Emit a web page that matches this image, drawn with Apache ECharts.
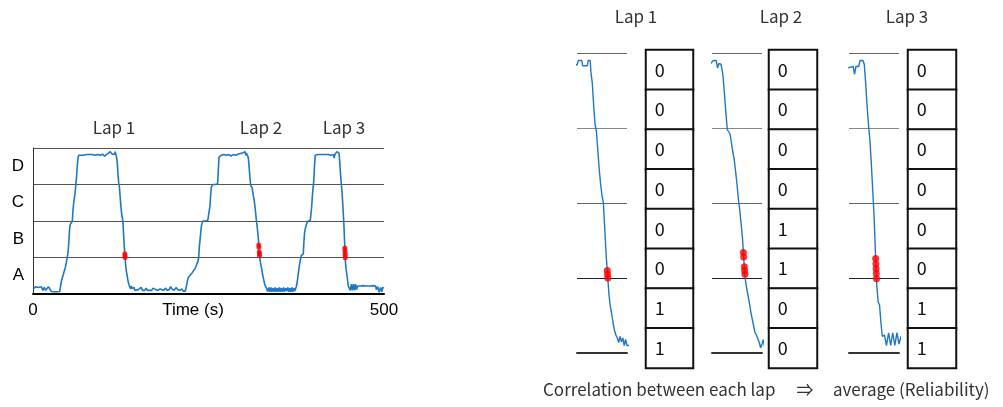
<!DOCTYPE html>
<html><head><meta charset="utf-8">
<script src="https://cdn.jsdelivr.net/npm/echarts/dist/echarts.min.js"></script>
<style>html,body{margin:0;padding:0;background:#fff}#c{width:1003px;height:407px}</style>
</head><body><div id="c"></div>
<script>
// ---- data: [time (s), position] pairs ----
const baseline0 = [[0,0.13],[2,0.13],[4,0.2],[6,0.22],[8,0.18],[10,0.22],[12,0.2],[14,0.1],[16,0.18],[18,0.1],[20,0.15],[22,0.2],[24,0.2],[26,0.07],[28,0.06],[30,0.06],[32,0.07],[34,0.06],[36,0.06],[38,0.07]];
const lap1Up = [[40,0.3],[41,0.4],[43,0.52],[45,0.66],[46,0.72],[48,0.92],[50,1.15],[51,1.4],[52,1.75],[53,1.9],[55,1.95],[56,2.0],[57,2.3],[58,2.5],[60,2.78],[61,3.0],[62,3.2],[63,3.5],[64,3.7],[65,3.8]];
const lap1Top = [[68,3.8],[72,3.8],[76,3.82],[79,3.82],[81,3.78],[84,3.82],[88,3.8],[92,3.82],[96,3.8],[99,3.83],[102,3.78],[104,3.82],[107,3.85],[109,3.84],[110,3.9],[112.5,3.9],[113,3.83],[116.5,3.83],[117,3.9],[118.5,3.9]];
const lap1Down = [[119,3.75],[120,3.6],[121,3.3],[122,3.05],[123,2.95],[124,2.7],[125,2.45],[126,2.25],[127,2.1],[128,2.0],[129,1.65],[130,1.3],[131,1.05],[132,0.78],[133,0.62],[134,0.52],[135,0.4],[136,0.3],[137,0.24],[138,0.2],[139,0.14],[140,0.22],[141,0.15],[142,0.2],[143,0.1],[144,0.18],[145,0.1]];
const baseline1 = [[147,0.1],[150,0.12],[152,0.1],[154,0.18],[156,0.1],[159,0.1],[161,0.16],[163,0.1],[166,0.1],[169,0.1],[171,0.16],[173,0.2],[175,0.12],[178,0.1],[181,0.14],[183,0.1],[186,0.1],[189,0.16],[191,0.1],[194,0.12],[196,0.2],[198,0.14],[201,0.1],[204,0.18],[206,0.12],[209,0.1],[212,0.14],[214,0.08],[217,0.08],[219,0.12]];
const lap2Up = [[221,0.45],[223,0.5],[226,0.56],[228,0.62],[231,0.7],[233,0.75],[235,0.9],[236,1.0],[237,1.3],[238,1.5],[239,1.7],[240,1.88],[242,2.0],[246,2.0],[249,2.02],[250,2.15],[252,2.4],[253,2.7],[254,2.92],[256,3.0],[260,3.0],[263,3.02],[264,3.4],[265,3.75],[266,3.8]];
const lap2Top = [[268,3.8],[272,3.82],[276,3.8],[279,3.82],[282,3.78],[285,3.82],[289,3.8],[292,3.83],[295,3.85],[298,3.86],[300,3.9],[302,3.9],[303,3.8],[304,3.86],[305.5,3.85],[306.5,3.75]];
const lap2Down = [[307,3.68],[308,3.45],[309,3.2],[310,2.98],[311,3.0],[312,2.92],[313,2.8],[314,2.68],[315,2.58],[316,2.42],[317,2.25],[318,2.05],[319,1.9],[320,1.72],[321,1.52],[322,1.22],[323,0.98],[324,0.86],[325,0.76],[326,0.66],[327,0.54],[328,0.45],[329,0.36],[330,0.27],[331,0.24],[332,0.24],[333,0.14],[334,0.07],[335,0.12]];
const baseline2 = [[336,0.18],[337,0.06],[339,0.18],[340,0.06],[342,0.16],[343,0.06],[345,0.18],[346,0.06],[348,0.16],[349,0.06],[351,0.18],[352,0.06],[354,0.16],[355,0.06],[357,0.18],[358,0.06],[360,0.16],[361,0.08],[363,0.18],[364,0.06],[366,0.16],[367,0.06],[369,0.18],[370,0.06],[372,0.16],[373,0.08],[375,0.2]];
const lap3Up = [[376,0.28],[378,0.57],[380,0.85],[381,0.95],[382,1.05],[385,1.1],[386,1.45],[387,1.7],[388,1.8],[390,1.94],[392,2.0],[395,2.02],[396,2.2],[397,2.4],[398,2.7],[399,2.92],[400,3.1],[401,3.5],[402,3.8]];
const lap3Top = [[404,3.82],[406,3.82],[408,3.78],[410,3.82],[414,3.82],[416,3.78],[418,3.82],[421,3.82],[424,3.8],[425,3.82],[428,3.82],[429,3.72],[430,3.82],[432,3.82],[433,3.9],[435,3.9],[436,3.85]];
const lap3Down = [[437,3.6],[438,3.3],[439,3.05],[440,2.85],[441,2.55],[442,2.2],[443,1.85],[444,1.35],[445,0.9],[446,0.68],[447,0.64],[448,0.4],[449,0.22],[450.5,0.24],[452,0.1],[453.5,0.27],[455,0.1],[456.5,0.27],[458,0.1],[459.5,0.27],[461,0.12]];
const baseline3 = [[462.5,0.22],[466,0.22],[470,0.23],[475,0.22],[480,0.22],[485,0.23],[488,0.22],[489,0.12],[491,0.2],[493,0.05],[495,0.18],[497,0.06],[498,0.18],[500,0.16]];

// red markers (threshold crossings)
const redLap1 = [[130.8,1.1],[131.0,1.05],[131.2,1.0]];
const redLap2 = [[321.6,1.34],[321.8,1.28],[322.3,1.15],[322.5,1.1],[322.7,1.05]];
const redLap3 = [[444.2,1.26],[444.35,1.19],[444.5,1.125],[444.65,1.06],[444.8,0.99]];

const zoneLabels = ['A','B','C','D'];
const lapNames = ['Lap 1','Lap 2','Lap 3'];
const lapWindows = [[109,145],[299,335],[425,461]];   // time span shown in each lap panel
const lap1Cells = [0,0,0,0,0,0,1,1];
const lap2Cells = [0,0,0,0,1,1,0,0];
const lap3Cells = [0,0,0,0,0,0,1,1];
const bottomText = ['Correlation between each lap', '\u21D2', 'average (Reliability)'];

// ---- build ----
const trace = [].concat(baseline0, lap1Up, lap1Top, lap1Down, baseline1, lap2Up, lap2Top, lap2Down, baseline2, lap3Up, lap3Top, lap3Down, baseline3);
const red = [].concat(redLap1, redLap2, redLap3);
const cellSets = [lap1Cells, lap2Cells, lap3Cells];

const BLUE = '#1f77c6';
const JP = '"Noto Sans CJK JP", "Noto Sans", sans-serif';
const AR = '"Liberation Sans", Arial, sans-serif';

const panelLeft = [577, 712, 849];
const tableLeft = [646, 769, 908];
const tableWidth = [47, 48, 48];

const grid = [{left:33, top:148, width:351, height:146}];
panelLeft.forEach(l => grid.push({left:l, top:53, width:50, height:300}));
tableLeft.forEach((l,i) => grid.push({left:l, top:50, width:tableWidth[i], height:318}));

const xAxis = [{
  gridIndex:0, type:'value', min:0, max:500, interval:500,
  axisLine:{show:true, lineStyle:{color:'#000', width:2}},
  axisTick:{show:false}, splitLine:{show:false},
  axisLabel:{fontSize:17, color:'#000', fontFamily:AR, margin:8},
  name:'Time (s)', nameLocation:'middle', nameGap:8, nameMoveOverlap:false,
  nameTextStyle:{fontSize:17, color:'#000', fontFamily:AR, verticalAlign:'top', padding:[0,31,0,0]}
}];
lapWindows.forEach((w,i) => xAxis.push({
  gridIndex:i+1, type:'value', min:w[0], max:w[1],
  axisLine:{show:true, lineStyle:{color:'#333', width:2}},
  axisTick:{show:false}, axisLabel:{show:false}, splitLine:{show:false}
}));
cellSets.forEach((c,i) => xAxis.push({gridIndex:i+4, type:'category', data:['v'], show:false}));

const yAxis = [
  {gridIndex:0, type:'value', min:0, max:4, interval:1, position:'left',
   axisLine:{show:true, lineStyle:{color:'#333', width:1}},
   axisTick:{show:false}, axisLabel:{show:false},
   splitLine:{show:true, lineStyle:{color:'#555', width:1}}},
  {gridIndex:0, type:'category', data:zoneLabels, position:'left',
   axisLine:{show:false}, axisTick:{show:false}, splitLine:{show:false},
   axisLabel:{fontSize:17, color:'#000', fontFamily:AR, margin:9}}
];
lapWindows.forEach((w,i) => yAxis.push({
  gridIndex:i+1, type:'value', min:0, max:4, interval:1,
  axisLine:{show:false}, axisTick:{show:false}, axisLabel:{show:false},
  splitLine:{show:true, lineStyle:{color:['#333','#222','#666','#888','#666'], width:1}}
}));
cellSets.forEach((c,i) => yAxis.push({gridIndex:i+4, type:'category', inverse:true, data:c.map((v,r)=>'r'+r), show:false}));

const series = [
  {type:'line', xAxisIndex:0, yAxisIndex:0, data:trace, showSymbol:false, lineStyle:{color:BLUE, width:1.6}, itemStyle:{color:BLUE}, z:2},
  {type:'scatter', xAxisIndex:0, yAxisIndex:0, data:red, symbolSize:5, itemStyle:{color:'#ff0000'}, z:3}
];
lapWindows.forEach((w,i) => {
  series.push({type:'line', xAxisIndex:i+1, yAxisIndex:i+2, data:trace, showSymbol:false, lineStyle:{color:BLUE, width:1.4}, itemStyle:{color:BLUE}, z:2});
  series.push({type:'scatter', xAxisIndex:i+1, yAxisIndex:i+2, data:red, symbolSize:7, itemStyle:{color:'#ff0000'}, z:3});
});
cellSets.forEach((c,i) => series.push({
  type:'heatmap', xAxisIndex:i+4, yAxisIndex:i+5,
  data:c.map((v,r)=>[0,r,v]),
  itemStyle:{color:'#fff', borderColor:'#111', borderWidth:2},
  label:{show:true, position:'insideLeft', distance:10, fontSize:18, fontFamily:JP, color:'#111',
         formatter:p=>String(p.value[2])},
  emphasis:{disabled:true}
}));

function txt(t, x, y, align) {
  return {type:'text', x:x, y:y, style:{text:t, x:0, y:0, font:'17px ' + JP, fill:'#333',
          textAlign:align||'center', textVerticalAlign:'middle', align:align||'center', verticalAlign:'middle'}};
}
const graphic = [
  txt(lapNames[0], 114, 128), txt(lapNames[1], 261, 128), txt(lapNames[2], 344, 128),
  txt(lapNames[0], 636, 17), txt(lapNames[1], 781, 17), txt(lapNames[2], 907, 17),
  txt(bottomText[0], 543, 390, 'left'), txt(bottomText[1], 805, 390), txt(bottomText[2], 833, 390, 'left')
];

const chart = echarts.init(document.getElementById('c'), null, {renderer:'canvas'});
chart.setOption({animation:false, backgroundColor:'#fff', grid, xAxis, yAxis, series, graphic});
</script>
</body></html>
